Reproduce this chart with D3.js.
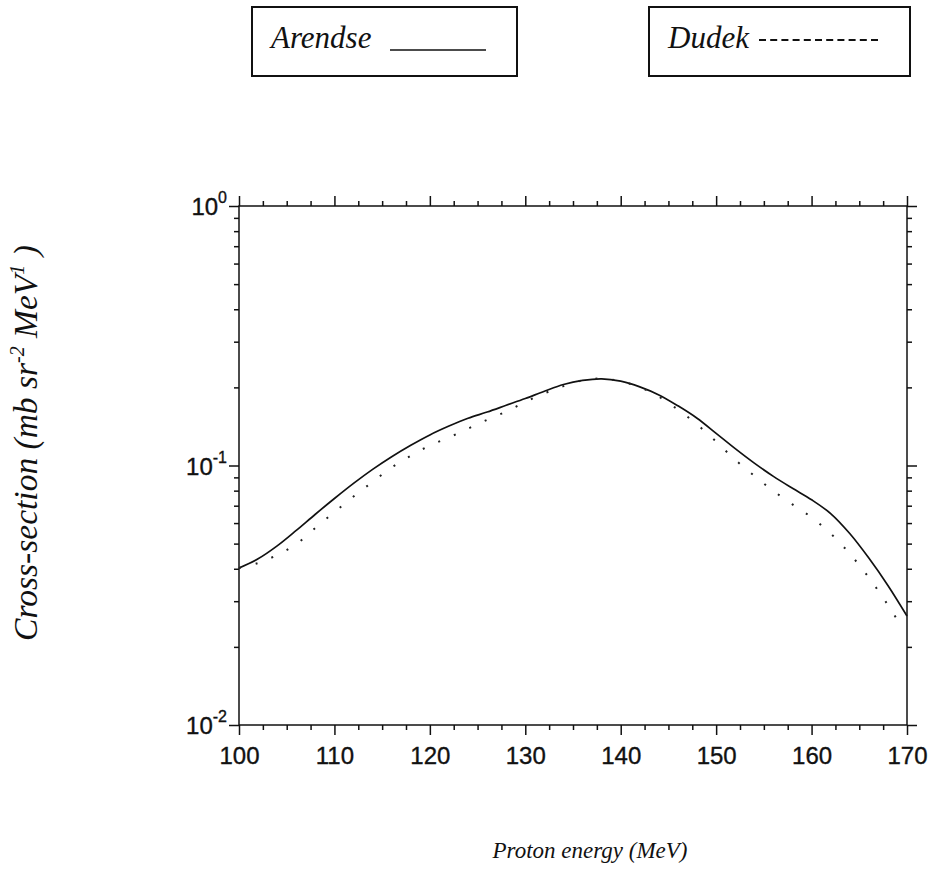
<!DOCTYPE html>
<html>
<head>
<meta charset="utf-8">
<script src="https://cdn.jsdelivr.net/npm/d3@7"></script>
<style>
	body { margin: 0; background: #fff; }
	text { fill: #111; }
	.tick-lbl { font-family: "Liberation Sans", Arial, sans-serif; font-size: 24px; stroke: #111; stroke-width: 0.35px; }
	.title { font-family: "Liberation Serif", "Times New Roman", serif; font-style: italic; }
</style>
</head>
<body>
<div id="chart"></div>
<script>
var width = 931,
	height = 889;

// proton energy (MeV)
var energyArendse = [100, 102, 104, 106, 108, 110, 112, 114, 116, 118, 120, 122, 124, 126, 128, 130, 132, 134, 136, 138,
	140, 142, 144, 146, 148, 150, 152, 154, 156, 158, 160, 162, 164, 166, 168, 170];
// cross-section (mb sr^-2 MeV^-1)
var xsArendse = [0.0403, 0.0437, 0.0490, 0.0562, 0.0649, 0.0746, 0.0853, 0.0966, 0.1081, 0.1197, 0.1312, 0.1419, 0.1521,
	0.1607, 0.1706, 0.1811, 0.1932, 0.2051, 0.2128, 0.2158, 0.2113, 0.2009, 0.1871, 0.1698, 0.1521, 0.1330, 0.1161,
	0.1021, 0.0908, 0.0817, 0.0738, 0.0653, 0.0547, 0.0440, 0.0345, 0.0263];

var energyDudek = [100, 102, 104, 106, 108, 110, 112, 114, 116, 118, 120, 122, 124, 126, 128, 130, 132, 134, 136, 138,
	140, 142, 144, 146, 148, 150, 152, 154, 156, 158, 160, 162, 164, 166, 168, 169.5];
var xsDudek = [0.0403, 0.0421, 0.0452, 0.0498, 0.0575, 0.0661, 0.0759, 0.0865, 0.0982, 0.1091, 0.1194, 0.1282, 0.1387,
	0.1500, 0.1614, 0.1758, 0.1897, 0.2023, 0.2128, 0.2163, 0.2109, 0.2004, 0.1841, 0.1641, 0.1439, 0.1236, 0.1052,
	0.0912, 0.0798, 0.0708, 0.0631, 0.0547, 0.0457, 0.0370, 0.0290, 0.0237];

var xMajor = [100, 110, 120, 130, 140, 150, 160, 170];
var xMinor = [102.5, 105, 107.5, 112.5, 115, 117.5, 122.5, 125, 127.5, 132.5, 135, 137.5,
	142.5, 145, 147.5, 152.5, 155, 157.5, 162.5, 165, 167.5];
var yMajor = [0.01, 0.1, 1];
var yExp = ["-2", "-1", "0"];
var yMinor = [0.02, 0.03, 0.04, 0.05, 0.06, 0.07, 0.08, 0.09, 0.2, 0.3, 0.4, 0.5, 0.6, 0.7, 0.8, 0.9];

var legendNames = ["Arendse", "Dudek"];

var plot = { left: 239, right: 907, top: 206, bottom: 725 };

var svg = d3.select("#chart")
	.append("svg")
	.attr("width", width)
	.attr("height", height);

var x = d3.scaleLinear()
	.domain([100, 170])
	.range([plot.left, plot.right]);

var y = d3.scaleLog()
	.domain([0.01, 1])
	.range([plot.bottom, plot.top]);

function drawAxis(axis, tx, ty) {
	var g = svg.append("g")
		.attr("transform", "translate(" + tx + "," + ty + ")")
		.call(axis);
	g.select(".domain").remove();
	g.selectAll(".tick line").attr("stroke", "#111").attr("stroke-width", 1.5);
	return g;
}

// bottom
var gxb = drawAxis(d3.axisBottom(x).tickValues(xMajor).tickSize(10).tickPadding(12).tickFormat(d3.format("d")), 0, plot.bottom);
gxb.selectAll("text").attr("class", "tick-lbl").attr("fill", "#111");
drawAxis(d3.axisBottom(x).tickValues(xMinor).tickSize(5).tickFormat(""), 0, plot.bottom);
// top
drawAxis(d3.axisTop(x).tickValues(xMajor).tickSize(10).tickFormat(""), 0, plot.top);
drawAxis(d3.axisTop(x).tickValues(xMinor).tickSize(5).tickFormat(""), 0, plot.top);
// left
drawAxis(d3.axisLeft(y).tickValues(yMajor).tickSize(10).tickFormat(""), plot.left, 0);
drawAxis(d3.axisLeft(y).tickValues(yMinor).tickSize(5).tickFormat(""), plot.left, 0);
// right
drawAxis(d3.axisRight(y).tickValues(yMajor).tickSize(10).tickFormat(""), plot.right, 0);
drawAxis(d3.axisRight(y).tickValues(yMinor).tickSize(5).tickFormat(""), plot.right, 0);

svg.append("rect")
	.attr("x", plot.left)
	.attr("y", plot.top)
	.attr("width", plot.right - plot.left)
	.attr("height", plot.bottom - plot.top)
	.attr("fill", "none")
	.attr("stroke", "#111")
	.attr("stroke-width", 1.5);

// y labels 10^n
svg.append("g").selectAll("text")
	.data(yMajor)
	.enter()
	.append("text")
	.attr("class", "tick-lbl")
	.attr("text-anchor", "end")
	.attr("x", plot.left - 12)
	.attr("y", function (d) { return y(d) + 9; })
	.each(function (d, i) {
		var t = d3.select(this);
		t.append("tspan").text("10");
		t.append("tspan").attr("dy", -12).attr("font-size", 16).text(yExp[i]);
	});

// curves
var line = d3.line().curve(d3.curveCatmullRom);

svg.append("path")
	.datum(energyArendse.map(function (e, i) { return [x(e), y(xsArendse[i])]; }))
	.attr("d", line)
	.attr("fill", "none")
	.attr("stroke", "#111")
	.attr("stroke-width", 1.7);

svg.append("path")
	.datum(energyDudek.map(function (e, i) { return [x(e), y(xsDudek[i])]; }))
	.attr("d", line)
	.attr("fill", "none")
	.attr("stroke", "#222")
	.attr("stroke-width", 2)
	.attr("stroke-dasharray", "2,15");

// axis titles
svg.append("text")
	.attr("class", "title")
	.attr("x", 590)
	.attr("y", 858)
	.attr("text-anchor", "middle")
	.attr("font-size", 23)
	.text("Proton energy (MeV)");

var yt = svg.append("text")
	.attr("class", "title")
	.attr("transform", "translate(37,443) rotate(-90)")
	.attr("text-anchor", "middle")
	.attr("font-size", 33.5);
yt.append("tspan").text("Cross-section (mb sr");
yt.append("tspan").attr("dy", -13).attr("font-size", 20).text("-2");
yt.append("tspan").attr("dy", 13).text(" MeV");
yt.append("tspan").attr("dy", -13).attr("font-size", 20).text("1");
yt.append("tspan").attr("dy", 13).text(" )");

// legend boxes
var legendBox = [[252, 517], [649, 910]];
var legend = svg.append("g").selectAll("g")
	.data(legendNames)
	.enter()
	.append("g");

legend.append("rect")
	.attr("x", function (d, i) { return legendBox[i][0]; })
	.attr("y", 7)
	.attr("width", function (d, i) { return legendBox[i][1] - legendBox[i][0]; })
	.attr("height", 69)
	.attr("fill", "none")
	.attr("stroke", "#111")
	.attr("stroke-width", 2);

legend.append("text")
	.attr("class", "title")
	.attr("x", function (d, i) { return legendBox[i][0] + 19; })
	.attr("y", 48)
	.attr("font-size", 31)
	.text(function (d) { return d; });

legend.append("line")
	.attr("x1", function (d, i) { return i == 0 ? 390 : 759; })
	.attr("x2", function (d, i) { return i == 0 ? 486 : 882; })
	.attr("y1", function (d, i) { return i == 0 ? 50 : 40; })
	.attr("y2", function (d, i) { return i == 0 ? 50 : 40; })
	.attr("stroke", "#111")
	.attr("stroke-width", function (d, i) { return i == 0 ? 1.6 : 2; })
	.attr("stroke-dasharray", function (d, i) { return i == 0 ? null : "7,4.2"; });
</script>
</body>
</html>
